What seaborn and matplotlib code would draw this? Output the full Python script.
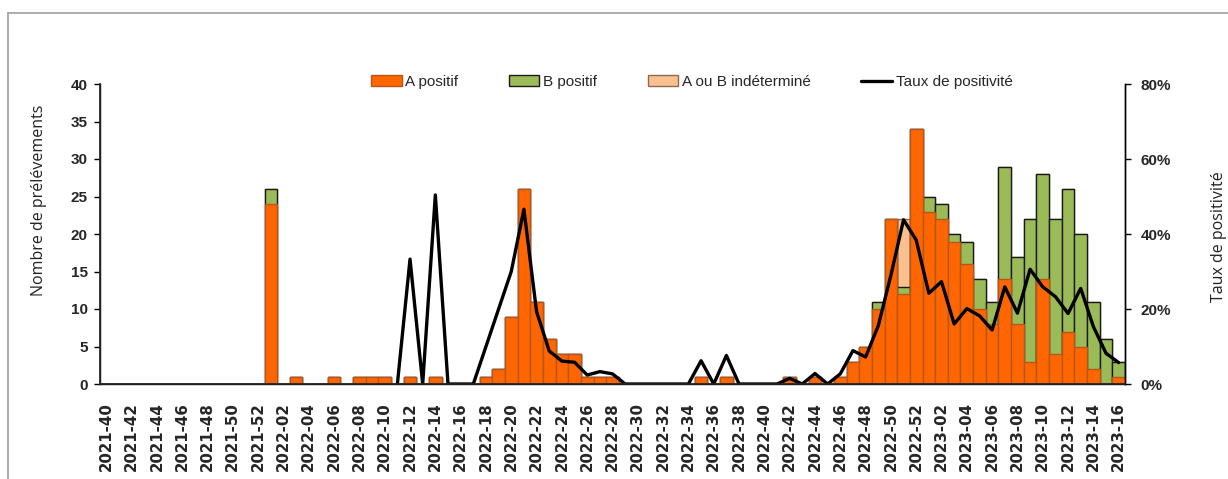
import numpy as np
import pandas as pd
import matplotlib
matplotlib.use("Agg")
import matplotlib.pyplot as plt
from matplotlib.lines import Line2D
from matplotlib.patches import Patch
from matplotlib.ticker import FuncFormatter, MultipleLocator
import seaborn as sns

# Weekly surveillance weeks (ISO year-week)
semaines = ([f"2021-{w:02d}" for w in range(40, 53)]
            + [f"2022-{w:02d}" for w in range(1, 53)]
            + [f"2023-{w:02d}" for w in range(1, 17)])

# Positive samples per week
a_positif = [
    0, 0, 0, 0, 0, 0, 0, 0, 0, 0, 0, 0, 0,          # 2021-40 .. 2021-52
    24, 0, 1, 0, 0, 1, 0, 1, 1, 1, 0, 1, 0, 1,      # 2022-01 .. 2022-14
    0, 0, 0, 1, 2, 9, 26, 11, 6, 4, 4, 1, 1, 1,     # 2022-15 .. 2022-28
    0, 0, 0, 0, 0, 0, 1, 0, 1, 0, 0, 0, 0, 1,       # 2022-29 .. 2022-42
    0, 1, 0, 1, 3, 5, 10, 22, 12, 34,               # 2022-43 .. 2022-52
    23, 22, 19, 16, 10, 8, 14, 8, 3, 14, 4, 7, 5, 2, 0, 1,  # 2023-01 .. 2023-16
]
b_positif = [
    0, 0, 0, 0, 0, 0, 0, 0, 0, 0, 0, 0, 0,
    2, 0, 0, 0, 0, 0, 0, 0, 0, 0, 0, 0, 0, 0,
    0, 0, 0, 0, 0, 0, 0, 0, 0, 0, 0, 0, 0, 0,
    0, 0, 0, 0, 0, 0, 0, 0, 0, 0, 0, 0, 0, 0,
    0, 0, 0, 0, 0, 0, 1, 0, 1, 0,
    2, 2, 1, 3, 4, 3, 15, 9, 19, 14, 18, 19, 15, 9, 6, 2,
]
indetermine = [
    0, 0, 0, 0, 0, 0, 0, 0, 0, 0, 0, 0, 0,
    0, 0, 0, 0, 0, 0, 0, 0, 0, 0, 0, 0, 0, 0,
    0, 0, 0, 0, 0, 0, 0, 0, 0, 0, 0, 0, 0, 0,
    0, 0, 0, 0, 0, 0, 0, 0, 0, 0, 0, 0, 0, 0,
    0, 0, 0, 0, 0, 0, 0, 0, 9, 0,
    0, 0, 0, 0, 0, 0, 0, 0, 0, 0, 0, 0, 0, 0, 0, 0,
]
# Positivity rate (%), not computed before 2022-11
nan = np.nan
taux_positivite = [
    nan, nan, nan, nan, nan, nan, nan, nan, nan, nan, nan, nan, nan,
    nan, nan, nan, nan, nan, nan, nan, nan, nan, nan, 0, 33.3, 0, 50.4,
    0, 0, 0, 10, 20, 30, 46.6, 19.3, 8.8, 6.1, 5.8, 2.4, 3.3, 2.7,
    0, 0, 0, 0, 0, 0, 6.2, 0, 7.6, 0, 0, 0, 0, 1.5,
    0, 2.8, 0, 2.7, 8.9, 7.2, 15.5, 29, 43.8, 38.4,
    24.2, 27.3, 16, 20.1, 18.2, 14.4, 25.9, 18.9, 30.6, 25.9, 23.3, 18.8, 25.5, 15.3, 8.2, 5.7,
]

df = pd.DataFrame({
    "semaine": semaines,
    "A": a_positif,
    "B": b_positif,
    "I": indetermine,
    "taux": taux_positivite,
})
df["AB"] = df["A"] + df["B"]
df["ABI"] = df["AB"] + df["I"]
df["pos"] = np.arange(len(df))

C_A, C_B, C_I = "#FF6600", "#9BBB59", "#FAC090"
E_A, E_B, E_I = "#B5561A", "#1A1A1A", "#8C6A55"

sns.set_theme(style="ticks")
plt.rcParams["font.family"] = ["Liberation Sans", "DejaVu Sans"]

fig = plt.figure(figsize=(12.28, 4.79), dpi=100)
ax = fig.add_axes([100 / 1228, 1 - 384 / 479, 1025 / 1228, 300 / 479])

# Stacked bars drawn as overlaid cumulative totals (tallest first)
sns.barplot(data=df, x="semaine", y="ABI", ax=ax, color=C_I, width=1,
            saturation=1, edgecolor=E_I, linewidth=1)
sns.barplot(data=df, x="semaine", y="AB", ax=ax, color=C_B, width=1,
            saturation=1, edgecolor=E_B, linewidth=1)
sns.barplot(data=df, x="semaine", y="A", ax=ax, color=C_A, width=1,
            saturation=1, edgecolor=E_A, linewidth=1)

ax.set_xlim(-0.5, len(df) - 0.5)
ax.set_ylim(0, 40)
ax.yaxis.set_major_locator(MultipleLocator(5))
ax.set_xticks(df["pos"][::2])
ax.set_xticklabels(df["semaine"][::2], rotation=90,
                   fontdict={"family": "DejaVu Sans", "weight": "bold", "size": 10.8})
ax.tick_params(axis="x", length=0, pad=13)
ax.tick_params(axis="y", length=4, width=1, pad=5, labelsize=11, color="black")
for lab in ax.get_yticklabels():
    lab.set_fontweight("bold")
ax.set_xlabel("")
ax.set_ylabel("Nombre de prélévements", family="Open Sans", fontsize=11.5,
              color="#222222")
ax.yaxis.set_label_coords(-0.052, 0.613)
ax.spines["top"].set_visible(False)
for s in ("left", "bottom", "right"):
    ax.spines[s].set_color("black")
    ax.spines[s].set_linewidth(1)

# Positivity rate on secondary axis
ax2 = ax.twinx()
sns.lineplot(data=df, x="pos", y="taux", ax=ax2, color="black", linewidth=2.4)
ax2.set_xlim(-0.5, len(df) - 0.5)
ax2.set_ylim(0, 80)
ax2.yaxis.set_major_locator(MultipleLocator(20))
ax2.yaxis.set_major_formatter(FuncFormatter(lambda v, _: f"{v:.0f}%"))
ax2.tick_params(axis="y", length=4, width=1, pad=7, labelsize=11, color="black")
for lab in ax2.get_yticklabels():
    lab.set_fontweight("bold")
ax2.set_xlabel("")
ax2.set_ylabel("Taux de positivité", family="Open Sans", fontsize=11.5,
               color="#222222", rotation=90)
ax2.yaxis.set_label_coords(1.084, 0.49)
ax2.spines["top"].set_visible(False)
ax2.spines["right"].set_color("black")
ax2.spines["right"].set_linewidth(1)

# Legend across the top
handles = [
    Patch(facecolor=C_A, edgecolor=E_A, linewidth=1),
    Patch(facecolor=C_B, edgecolor=E_B, linewidth=1),
    Patch(facecolor=C_I, edgecolor=E_I, linewidth=1),
    Line2D([], [], color="black", linewidth=2.4),
]
labels = ["A positif", "B positif", "A ou B indéterminé", "Taux de positivité"]
fig.legend(handles, labels, loc="center left", bbox_to_anchor=(371 / 1228, 1 - 82 / 479),
           ncol=4, frameon=False, fontsize=11, handlelength=2.0, handleheight=0.7,
           handletextpad=0.25, columnspacing=3.3, borderpad=0, borderaxespad=0)

# Outer chart frame
fig.add_artist(Line2D([8 / 1228, 1.0], [1 - 13 / 479, 1 - 13 / 479],
                      transform=fig.transFigure, color="#A6A6A6", linewidth=1.3))
fig.add_artist(Line2D([8 / 1228, 8 / 1228], [0.0, 1 - 13 / 479],
                      transform=fig.transFigure, color="#A6A6A6", linewidth=1.3))

fig.savefig("out.png", dpi=100, facecolor="white")
